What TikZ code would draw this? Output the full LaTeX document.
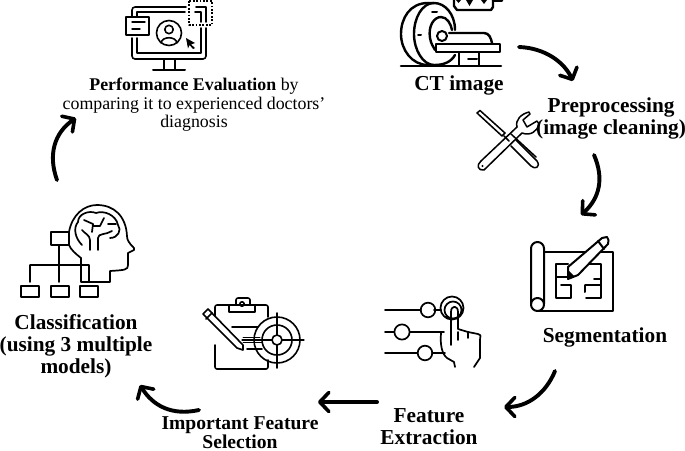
\documentclass[tikz,border=0pt]{standalone}
\usepackage{fontspec}
\setmainfont{Liberation Serif}
\usetikzlibrary{arrows.meta}
\tikzset{
 x=1pt,y=-1pt,
 flow/.style={line width=3.9pt,line cap=round,-{Straight Barb[length=9pt,width=19pt,line width=3.6pt,line cap=round,round]}},
 ico/.style={line width=1.6pt,line join=round,line cap=round},
 thick ico/.style={line width=2.4pt,line join=round,line cap=round},
 lab/.style={font=\bfseries\fontsize{21.3}{21.8}\selectfont,align=center,inner sep=0pt},
 labs/.style={font=\bfseries\fontsize{19.6}{19.2}\selectfont,align=center,inner sep=0pt},
 txt/.style={font=\fontsize{17.85}{18.5}\selectfont,align=center,inner sep=0pt},
}
\begin{document}
\begin{tikzpicture}
\useasboundingbox (0,0) rectangle (685,450);
% Labels
\node[txt] (perf) at (194,105) {\textbf{Performance Evaluation} by\\comparing it to experienced doctors’\\diagnosis};
\node[lab] (ct) at (459,85) {CT image};
\node[lab] (pre) at (611,118.5) {Preprocessing\\(image cleaning)};
\node[lab] (seg) at (605,337) {Segmentation};
\node[lab] (fe) at (429,427) {Feature\\Extraction};
\node[labs] (ifs) at (240,433) {Important Feature\\Selection};
\node[lab] (cls) at (76,346) {Classification\\(using 3 multiple\\models)};
% Arrow anchors
\coordinate (a1s) at (519,47); \coordinate (a1e) at (573,81);
\coordinate (a2s) at (594,155); \coordinate (a2e) at (581,215);
\coordinate (a3s) at (555,371); \coordinate (a3e) at (504,407);
\coordinate (a4s) at (377,402); \coordinate (a4e) at (318,402);
\coordinate (a5s) at (199,410); \coordinate (a5e) at (140,385);
\coordinate (a6s) at (57,180); \coordinate (a6e) at (76,118);
\draw[flow] (a1s) .. controls (545,48) and (564,62) .. (a1e);
\draw[flow] (a2s) .. controls (604,178) and (600,198) .. (a2e);
\draw[flow] (a3s) .. controls (546,393) and (528,407) .. (a3e);
\draw[flow] (a4s) -- (a4e);
\draw[flow] (a5s) .. controls (172,416) and (153,406) .. (a5e);
\draw[flow] (a6s) .. controls (48,155) and (54,133) .. (a6e);
% Monitor icon
\begin{scope}[ico]
\draw[rounded corners=3pt] (132,38) -- (132,59) -- (206,59) -- (206,28);
\draw[rounded corners=3pt] (132,16) -- (132,7) -- (186,7);
\draw (137,38) -- (137,53) -- (201,53) -- (201,28);
\draw (137,16) -- (137,12) -- (185,12);
\draw (195,12) -- (201,12) -- (201,22);
\draw (196,7) -- (206,7) -- (206,22);
\draw[line width=1.8pt] (126,17) rectangle (149,35);
\draw[line width=1.4pt] (132,22) -- (145,22) (132,29) -- (140,29);
\draw[line width=1.7pt,line cap=butt,dash pattern=on 1.8pt off 1.6pt] (189,1) rectangle (212,25);
\draw (169,33) circle (12.5);
\draw (169,29.5) circle (4.2);
\draw (161,43) .. controls (162,36) and (176,36) .. (177,43);
\fill (186,38) -- (195,43) -- (191,44.5) -- (195,48) -- (193,49) -- (189.5,45) -- (188,48.5) -- cycle;
\draw (164,60) -- (164,70) (175,60) -- (175,70);
\draw[line width=2pt] (153,70) -- (185,70);
\end{scope}
% CT scanner
\begin{scope}[thick ico]
\draw (428,3) .. controls (410,3) and (401,18) .. (401,34) .. controls (401,50) and (412,65) .. (428,65);
\draw (428,3) -- (434,3) .. controls (445,3) and (455,14) .. (455,30);
\draw (434,3) .. controls (422,3) and (414,18) .. (414,34) .. controls (414,50) and (423,65) .. (434,65) -- (428,65);
\draw (434,65) .. controls (444,65) and (451,62) .. (455,55);
\draw (430,38) .. controls (428,26) and (434,17) .. (441,17) .. controls (447,17) and (451,24) .. (452,30);
\draw (430,38) .. controls (431,44) and (433,46) .. (435,50);
\draw[line width=2pt] (418,34.5) -- (421,34.5) (432,11.5) -- (437,11.5) (468,59) -- (477,59);
\draw[line width=2pt,fill=white] (442,36) circle (5);
\draw (449,33) -- (484,33) .. controls (489,33) and (491,38) .. (492,43);
\draw[fill=white] (436,44) rectangle (500,52);
\draw (459,53) -- (459,65) (479,53) -- (479,65);
\draw[line width=2.6pt] (401,66) -- (501,66);
\draw (454,0) -- (454,6) -- (457,10) -- (491,10) -- (493,7) -- (493,0);
\draw (493,0.5) -- (502,0.5);
\fill (466,0) -- (473,0) -- (469.5,6) -- cycle (481,0) -- (487,0) -- (484,4) -- cycle (456,0) -- (461,0) -- (458.5,3) -- cycle;
\end{scope}
% Tools
\begin{scope}[line width=1.5pt,line join=round,line cap=round]
\draw (477,113) -- (480,110.5) -- (505,133) -- (502,136) -- cycle;
\draw (509,141) -- (504,136) (511,134) -- (536,157);
\draw (511,146) -- (531,166) .. controls (535,170) and (541,167) .. (537,161) -- (516,140);
\draw (481,161) -- (517,127);
\draw (481,161) .. controls (476,165) and (478,171) .. (484,170) -- (522,133) .. controls (530,136) and (537,132) .. (539,124);
\draw (517,127) .. controls (515,120) and (521,114) .. (529,112) -- (530,114) -- (523,120) -- (527,127) -- (537,121) -- (539,124);
\fill (482.5,166) circle (1.2);
\end{scope}
% Segmentation
\begin{scope}[line width=2pt,line join=round,line cap=round]
\draw[rounded corners=6.5pt] (531,304) -- (531,242) -- (544,242) -- (544,304);
\draw (537.5,304.5) circle (6.5);
\draw (544,252) -- (613,252) -- (613,311) -- (538,311);
\draw (568,264) -- (556,264) -- (556,277) -- (567,277) (556,277) -- (556,298) -- (571,298) -- (571,285) -- (561,285);
\draw (586,298) -- (601,298) -- (601,264) -- (588,264) (601,285) -- (585,285) (585,285) -- (585,292);
\draw (601,279) -- (594,279);
\draw[fill=white] (568,267) -- (602,238) -- (607,237) -- (608.5,240) -- (608,244) -- (578,275) -- (568,279) -- cycle;
\draw (598,241) -- (604,249);
\fill (568,279) -- (569,271) -- (574,276) -- cycle;
\end{scope}
% Feature extraction
\begin{scope}[line width=1.7pt,line join=round,line cap=round]
\draw (385,310) -- (421,310) (434,310) -- (441,310);
\draw (385,332) -- (394,332) (410,332) -- (440,332);
\draw (385,353) -- (417,353) (432,353) -- (445,353);
\draw (428,310) circle (7.3) (402,332) circle (7.6) (425,353) circle (7.3);
\draw (452,308) circle (11.5) (453,310) circle (8.5);
\draw (451,345) -- (451,312) .. controls (451,305) and (458,305) .. (458,312) -- (458,329) -- (468,332) -- (478,334) .. controls (482,336) and (480,335) .. (480,340) -- (480,358) -- (474,367);
\draw (440,332) -- (444,332) (441,333) .. controls (440,345) and (442,354) .. (447,358) -- (454,362) -- (455,367);
\draw (468,332) -- (468,338) (458,332) -- (458,340);
\end{scope}
% Clipboard
\begin{scope}[line width=1.6pt,line join=round,line cap=round]
\draw[rounded corners=2pt] (215,323) -- (215,305) -- (268,305) -- (268,317);
\draw[rounded corners=2pt] (215,345) -- (215,369) -- (268,369) -- (268,360);
\draw (229,312) -- (229,305) (255,312) -- (255,305) (229,312) -- (255,312);
\draw[rounded corners=2pt] (236,305) -- (236,298) -- (250,298) -- (250,305);
\draw (242,304) circle (2.2);
\draw (232,327) -- (258,327) (247,349) -- (262,349);
\draw[line width=1pt] (243,337.5) -- (260,337.5) (243,342.5) -- (262,342.5);
\draw[fill=white] (203,314) -- (208,309) -- (243,345) -- (243,350) -- (237,348) -- cycle;
\draw (206,319) -- (212,313);
\draw (277,340) circle (23) (277,340) circle (15) (277,340) circle (5);
\draw (277,313) -- (277,335) (277,345) -- (277,368);
\draw[line width=1.2pt] (242,340) -- (272,340) (282,340) -- (304,340);
\end{scope}
% Brain and hierarchy
\begin{scope}[line width=1.7pt,line join=round,line cap=round]
\draw (69,232) .. controls (72,215) and (84,205) .. (97,205) .. controls (114,205) and (126,216) .. (127,236) .. controls (127,240) and (129,243) .. (134,248) -- (134,250) -- (128,253) -- (128,265) .. controls (128,270) and (125,270) .. (110,271) -- (110,282) -- (81,282) -- (81,258);
\draw (69,245) .. controls (71,250) and (76,254) .. (81,258);
\draw (51,232) rectangle (69,245);
\draw (59,246) -- (59,282) (30,265) -- (30,282) (30,265) -- (89,265) -- (89,282);
\draw (21,286) rectangle (39,297) (51,286) rectangle (69,297) (80,286) rectangle (98,297);
\draw (90,250) -- (90,240) .. controls (90,235) and (84,233) .. (82,230) (98,250) -- (98,238) .. controls (98,233) and (106,235) .. (112,231);
\draw (82,245) .. controls (75,238) and (73,228) .. (78,222) .. controls (78,214) and (89,210) .. (96,213) .. controls (104,210) and (116,215) .. (118,225) .. controls (122,230) and (118,238) .. (110,238);
\draw (84,220) -- (93,224) -- (92,232) (104,218) -- (100,226) -- (94,226) (108,224) -- (116,224);
\end{scope}
\end{tikzpicture}
\end{document}
